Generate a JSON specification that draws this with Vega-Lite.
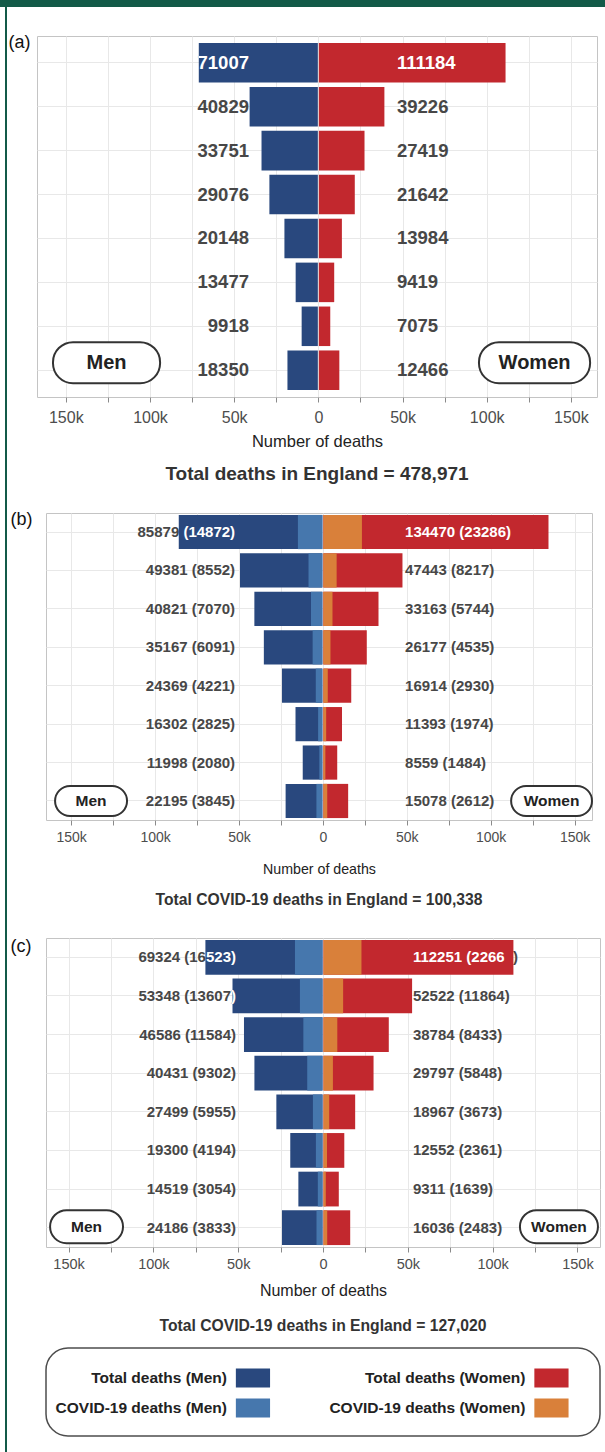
{
  "$schema": "https://vega.github.io/schema/vega-lite/v6.json",
  "padding": 0,
  "autosize": {"type": "pad"},
  "background": "white",
  "config": {
    "font": "Liberation Sans",
    "view": {"stroke": "#c4c4c4"}
  },
  "datasets": {
    "a_m": [
      {"group": "85+", "total": 71007, "label": "71007"},
      {"group": "80-84", "total": 40829, "label": "40829"},
      {"group": "75-79", "total": 33751, "label": "33751"},
      {"group": "70-74", "total": 29076, "label": "29076"},
      {"group": "65-69", "total": 20148, "label": "20148"},
      {"group": "60-64", "total": 13477, "label": "13477"},
      {"group": "55-59", "total": 9918, "label": "9918"},
      {"group": "<55", "total": 18350, "label": "18350"}
    ],
    "a_w": [
      {"group": "85+", "total": 111184, "label": "111184"},
      {"group": "80-84", "total": 39226, "label": "39226"},
      {"group": "75-79", "total": 27419, "label": "27419"},
      {"group": "70-74", "total": 21642, "label": "21642"},
      {"group": "65-69", "total": 13984, "label": "13984"},
      {"group": "60-64", "total": 9419, "label": "9419"},
      {"group": "55-59", "total": 7075, "label": "7075"},
      {"group": "<55", "total": 12466, "label": "12466"}
    ],
    "b_m": [
      {"group": "85+", "total": 85879, "covid": 14872, "label": "85879 (14872)"},
      {"group": "80-84", "total": 49381, "covid": 8552, "label": "49381 (8552)"},
      {"group": "75-79", "total": 40821, "covid": 7070, "label": "40821 (7070)"},
      {"group": "70-74", "total": 35167, "covid": 6091, "label": "35167 (6091)"},
      {"group": "65-69", "total": 24369, "covid": 4221, "label": "24369 (4221)"},
      {"group": "60-64", "total": 16302, "covid": 2825, "label": "16302 (2825)"},
      {"group": "55-59", "total": 11998, "covid": 2080, "label": "11998 (2080)"},
      {"group": "<55", "total": 22195, "covid": 3845, "label": "22195 (3845)"}
    ],
    "b_w": [
      {"group": "85+", "total": 134470, "covid": 23286, "label": "134470 (23286)"},
      {"group": "80-84", "total": 47443, "covid": 8217, "label": "47443 (8217)"},
      {"group": "75-79", "total": 33163, "covid": 5744, "label": "33163 (5744)"},
      {"group": "70-74", "total": 26177, "covid": 4535, "label": "26177 (4535)"},
      {"group": "65-69", "total": 16914, "covid": 2930, "label": "16914 (2930)"},
      {"group": "60-64", "total": 11393, "covid": 1974, "label": "11393 (1974)"},
      {"group": "55-59", "total": 8559, "covid": 1484, "label": "8559 (1484)"},
      {"group": "<55", "total": 15078, "covid": 2612, "label": "15078 (2612)"}
    ],
    "c_m": [
      {"group": "85+", "total": 69324, "covid": 16523, "label": "69324 (16523)"},
      {"group": "80-84", "total": 53348, "covid": 13607, "label": "53348 (13607)"},
      {"group": "75-79", "total": 46586, "covid": 11584, "label": "46586 (11584)"},
      {"group": "70-74", "total": 40431, "covid": 9302, "label": "40431 (9302)"},
      {"group": "65-69", "total": 27499, "covid": 5955, "label": "27499 (5955)"},
      {"group": "60-64", "total": 19300, "covid": 4194, "label": "19300 (4194)"},
      {"group": "55-59", "total": 14519, "covid": 3054, "label": "14519 (3054)"},
      {"group": "<55", "total": 24186, "covid": 3833, "label": "24186 (3833)"}
    ],
    "c_w": [
      {"group": "85+", "total": 112251, "covid": 22667, "label": "112251 (22667)"},
      {"group": "80-84", "total": 52522, "covid": 11864, "label": "52522 (11864)"},
      {"group": "75-79", "total": 38784, "covid": 8433, "label": "38784 (8433)"},
      {"group": "70-74", "total": 29797, "covid": 5848, "label": "29797 (5848)"},
      {"group": "65-69", "total": 18967, "covid": 3673, "label": "18967 (3673)"},
      {"group": "60-64", "total": 12552, "covid": 2361, "label": "12552 (2361)"},
      {"group": "55-59", "total": 9311, "covid": 1639, "label": "9311 (1639)"},
      {"group": "<55", "total": 16036, "covid": 2483, "label": "16036 (2483)"}
    ],
    "legend": [
      {"series": "Total deaths (Men)", "sex": "Men", "kind": "Total"},
      {"series": "COVID-19 deaths (Men)", "sex": "Men", "kind": "COVID-19"},
      {"series": "Total deaths (Women)", "sex": "Women", "kind": "Total"},
      {"series": "COVID-19 deaths (Women)", "sex": "Women", "kind": "COVID-19"}
    ]
  },
  "bounds": "flush",
  "spacing": 30,
  "hconcat": [
    {
      "width": 7,
      "height": 1452,
      "view": {"stroke": null},
      "data": {"values": [{}]},
      "layer": [
        {
          "mark": {"type": "rect", "color": "#135a48"},
          "encoding": {
            "x": {"datum": 5, "type": "quantitative", "scale": {"domain": [0, 7], "nice": false, "zero": false}, "axis": null},
            "x2": {"datum": 7},
            "y": {"datum": 0, "type": "quantitative", "scale": {"domain": [0, 1452], "nice": false, "reverse": true}, "axis": null},
            "y2": {"datum": 1452}
          }
        },
        {
          "mark": {"type": "rect", "color": "#135a48"},
          "encoding": {
            "x": {"datum": 0, "type": "quantitative"},
            "x2": {"datum": 605},
            "y": {"datum": 0, "type": "quantitative"},
            "y2": {"datum": 7}
          }
        }
      ]
    },
    {
      "bounds": "flush",
      "spacing": 29,
      "vconcat": [
        {
          "width": 560,
          "height": 7,
          "view": {"stroke": null},
          "data": {"values": [{}]},
          "mark": {"type": "rect", "color": "#135a48"},
          "encoding": {
            "x": {"datum": 0, "type": "quantitative", "scale": {"domain": [0, 1], "nice": false}, "axis": null},
            "x2": {"datum": 1},
            "y": {"datum": 0, "type": "quantitative", "scale": {"domain": [0, 1], "nice": false}, "axis": null},
            "y2": {"datum": 1}
          }
        },
        {
          "bounds": "flush",
          "spacing": 116,
          "vconcat": [
            {
              "width": 560,
              "height": 361,
              "view": {"stroke": "#c4c4c4"},
              "title": {"text": "Total deaths in England = 478,971", "orient": "bottom", "fontSize": 19, "fontWeight": "bold", "color": "#333333", "offset": 15},
              "encoding": {
                "y": {
                  "field": "group", "type": "nominal",
                  "sort": ["85+", "80-84", "75-79", "70-74", "65-69", "60-64", "55-59", "<55"],
                  "scale": {"paddingInner": 0.1, "paddingOuter": 0.16},
                  "axis": {"title": "(a)", "titleAngle": 0, "titleAlign": "left", "titleBaseline": "top", "titleX": -29, "titleY": -3, "titleFontSize": 18, "titleFontWeight": "normal", "titleColor": "#111111", "labels": false, "ticks": false, "domain": false, "grid": true, "gridColor": "#e8e8e8"}
                }
              },
              "layer": [
                {
                  "data": {"name": "a_m"},
                  "encoding": {"x": {"field": "total", "type": "quantitative", "scale": {"domain": [167100, -165500], "nice": false}, "axis": null}},
                  "layer": [
                    {"mark": {"type": "text", "align": "right", "baseline": "middle", "fontSize": 18.5, "fontWeight": "bold", "color": "#474747"}, "encoding": {"x": {"datum": 41200}, "text": {"field": "label"}}},
                    {"mark": {"type": "bar", "x2Offset": -0.5}, "encoding": {"x2": {"datum": 0}, "color": {"datum": "Total deaths (Men)", "scale": {"domain": ["Total deaths (Men)", "COVID-19 deaths (Men)", "Total deaths (Women)", "COVID-19 deaths (Women)"], "range": ["#29487e", "#4677ad", "#c2282e", "#d9803a"]}, "legend": null}}},
                    {"transform": [{"filter": "datum.total > 41200"}], "mark": {"type": "text", "align": "right", "baseline": "middle", "fontSize": 18.5, "fontWeight": "bold", "color": "white", "dir": "rtl", "ellipsis": "\u200b", "limit": {"expr": "(datum.total - 41200) / 594 + 2"}}, "encoding": {"x": {"datum": 41200}, "text": {"field": "label"}}},
                    {"transform": [{"filter": "datum.group == '<55'"}], "mark": {"type": "bar", "fill": "white", "stroke": "#333333", "strokeWidth": 2, "cornerRadius": 20, "height": 41, "yOffset": -7.5}, "encoding": {"x": {"datum": 157600}, "x2": {"datum": 94000}}},
                    {"transform": [{"filter": "datum.group == '<55'"}], "mark": {"type": "text", "baseline": "middle", "fontSize": 20, "fontWeight": "bold", "color": "#222222", "yOffset": -7.5}, "encoding": {"x": {"datum": 125800}, "text": {"value": "Men"}}}
                  ]
                },
                {
                  "data": {"name": "a_w"},
                  "encoding": {"x": {"field": "total", "type": "quantitative", "scale": {"domain": [-167100, 165500], "nice": false},
                    "axis": {"orient": "bottom", "values": [-150000, -125000, -100000, -75000, -50000, -25000, 0, 25000, 50000, 75000, 100000, 125000, 150000], "labelExpr": "datum.value % 50000 == 0 ? (datum.value == 0 ? '0' : format(abs(datum.value) / 1000, 'd') + 'k') : ''", "labelOverlap": false, "labelFlush": false, "grid": true, "gridColor": "#e8e8e8", "domain": false, "tickColor": "#8a8a8a", "tickSize": 5, "labelPadding": 7, "labelFontSize": 16, "labelColor": "#4d4d4d", "title": "Number of deaths", "titleFontSize": 16.5, "titleFontWeight": "normal", "titleColor": "#222222", "titlePadding": 8}}},
                  "layer": [
                    {"mark": {"type": "text", "align": "left", "baseline": "middle", "fontSize": 18.5, "fontWeight": "bold", "color": "#474747"}, "encoding": {"x": {"datum": 46700}, "text": {"field": "label"}}},
                    {"mark": {"type": "bar", "x2Offset": 0.5}, "encoding": {"x2": {"datum": 0}, "color": {"datum": "Total deaths (Women)", "scale": {"domain": ["Total deaths (Men)", "COVID-19 deaths (Men)", "Total deaths (Women)", "COVID-19 deaths (Women)"], "range": ["#29487e", "#4677ad", "#c2282e", "#d9803a"]}, "legend": null}}},
                    {"transform": [{"filter": "datum.total > 46700"}], "mark": {"type": "text", "align": "left", "baseline": "middle", "fontSize": 18.5, "fontWeight": "bold", "color": "white", "ellipsis": "\u200b", "limit": {"expr": "(datum.total - 46700) / 594"}}, "encoding": {"x": {"datum": 46700}, "text": {"field": "label"}}},
                    {"transform": [{"filter": "datum.group == '<55'"}], "mark": {"type": "bar", "fill": "white", "stroke": "#333333", "strokeWidth": 2, "cornerRadius": 20, "height": 41, "yOffset": -7.5}, "encoding": {"x": {"datum": 95400}, "x2": {"datum": 161400}}},
                    {"transform": [{"filter": "datum.group == '<55'"}], "mark": {"type": "text", "baseline": "middle", "fontSize": 20, "fontWeight": "bold", "color": "#222222", "yOffset": -7.5}, "encoding": {"x": {"datum": 128400}, "text": {"value": "Women"}}}
                  ]
                }
              ],
              "resolve": {"scale": {"x": "independent"}}
            },
            {
              "bounds": "flush",
              "spacing": 8,
              "hconcat": [
                {"width": 1, "height": 1, "view": {"stroke": null}, "data": {"values": []}, "mark": "point"},
                {
                  "bounds": "flush",
                  "spacing": 118,
                  "vconcat": [
                    {
                      "width": 546,
                      "height": 307,
                      "view": {"stroke": "#c4c4c4"},
                      "title": {"text": "Total COVID-19 deaths in England = 100,338", "orient": "bottom", "fontSize": 15.7, "fontWeight": "bold", "color": "#333333", "offset": 17},
                      "encoding": {
                        "y": {
                          "field": "group", "type": "nominal",
                          "sort": ["85+", "80-84", "75-79", "70-74", "65-69", "60-64", "55-59", "<55"],
                          "scale": {"paddingInner": 0.11, "paddingOuter": 0.05},
                          "axis": {"title": "(b)", "titleAngle": 0, "titleAlign": "left", "titleBaseline": "top", "titleX": -36, "titleY": -3, "titleFontSize": 18, "titleFontWeight": "normal", "titleColor": "#111111", "labels": false, "ticks": false, "domain": false, "grid": true, "gridColor": "#e8e8e8"}
                        }
                      },
                      "layer": [
                        {
                          "data": {"name": "b_m"},
                          "encoding": {"x": {"field": "total", "type": "quantitative", "scale": {"domain": [165000, -160400], "nice": false}, "axis": null}},
                          "layer": [
                            {"mark": {"type": "text", "align": "right", "baseline": "middle", "fontSize": 15, "fontWeight": "bold", "color": "#474747"}, "encoding": {"x": {"datum": 52300}, "text": {"field": "label"}}},
                            {"mark": {"type": "bar", "x2Offset": -0.5}, "encoding": {"x2": {"datum": 0}, "color": {"datum": "Total deaths (Men)", "scale": {"domain": ["Total deaths (Men)", "COVID-19 deaths (Men)", "Total deaths (Women)", "COVID-19 deaths (Women)"], "range": ["#29487e", "#4677ad", "#c2282e", "#d9803a"]}, "legend": null}}},
                            {"mark": {"type": "bar", "x2Offset": -0.5}, "encoding": {"x": {"field": "covid", "type": "quantitative"}, "x2": {"datum": 0}, "color": {"datum": "COVID-19 deaths (Men)"}}},
                            {"transform": [{"filter": "datum.total > 52300"}], "mark": {"type": "text", "align": "right", "baseline": "middle", "fontSize": 15, "fontWeight": "bold", "color": "white", "dir": "rtl", "ellipsis": "\u200b", "limit": {"expr": "(datum.total - 52300) / 596 + 2"}}, "encoding": {"x": {"datum": 52300}, "text": {"field": "label"}}},
                            {"transform": [{"filter": "datum.group == '<55'"}], "mark": {"type": "bar", "fill": "white", "stroke": "#333333", "strokeWidth": 2, "cornerRadius": 15, "height": 30}, "encoding": {"x": {"datum": 159600}, "x2": {"datum": 116700}}},
                            {"transform": [{"filter": "datum.group == '<55'"}], "mark": {"type": "text", "baseline": "middle", "fontSize": 15.5, "fontWeight": "bold", "color": "#222222"}, "encoding": {"x": {"datum": 138150}, "text": {"value": "Men"}}}
                          ]
                        },
                        {
                          "data": {"name": "b_w"},
                          "encoding": {"x": {"field": "total", "type": "quantitative", "scale": {"domain": [-165000, 160400], "nice": false},
                            "axis": {"orient": "bottom", "values": [-150000, -125000, -100000, -75000, -50000, -25000, 0, 25000, 50000, 75000, 100000, 125000, 150000], "labelExpr": "datum.value % 50000 == 0 ? (datum.value == 0 ? '0' : format(abs(datum.value) / 1000, 'd') + 'k') : ''", "labelOverlap": false, "labelFlush": false, "grid": true, "gridColor": "#e8e8e8", "domain": false, "tickColor": "#8a8a8a", "tickSize": 5, "labelPadding": 5, "labelFontSize": 14, "labelColor": "#4d4d4d", "title": "Number of deaths", "titleFontSize": 14.2, "titleFontWeight": "normal", "titleColor": "#222222", "titlePadding": 18}}},
                          "layer": [
                            {"mark": {"type": "text", "align": "left", "baseline": "middle", "fontSize": 15, "fontWeight": "bold", "color": "#474747"}, "encoding": {"x": {"datum": 49000}, "text": {"field": "label"}}},
                            {"mark": {"type": "bar", "x2Offset": 0.5}, "encoding": {"x2": {"datum": 0}, "color": {"datum": "Total deaths (Women)", "scale": {"domain": ["Total deaths (Men)", "COVID-19 deaths (Men)", "Total deaths (Women)", "COVID-19 deaths (Women)"], "range": ["#29487e", "#4677ad", "#c2282e", "#d9803a"]}, "legend": null}}},
                            {"mark": {"type": "bar", "x2Offset": 0.5}, "encoding": {"x": {"field": "covid", "type": "quantitative"}, "x2": {"datum": 0}, "color": {"datum": "COVID-19 deaths (Women)"}}},
                            {"transform": [{"filter": "datum.total > 49000"}], "mark": {"type": "text", "align": "left", "baseline": "middle", "fontSize": 15, "fontWeight": "bold", "color": "white", "ellipsis": "\u200b", "limit": {"expr": "(datum.total - 49000) / 596"}}, "encoding": {"x": {"datum": 49000}, "text": {"field": "label"}}},
                            {"transform": [{"filter": "datum.group == '<55'"}], "mark": {"type": "bar", "fill": "white", "stroke": "#333333", "strokeWidth": 2, "cornerRadius": 15, "height": 30}, "encoding": {"x": {"datum": 112200}, "x2": {"datum": 160400}}},
                            {"transform": [{"filter": "datum.group == '<55'"}], "mark": {"type": "text", "baseline": "middle", "fontSize": 15.5, "fontWeight": "bold", "color": "#222222"}, "encoding": {"x": {"datum": 136300}, "text": {"value": "Women"}}}
                          ]
                        }
                      ],
                      "resolve": {"scale": {"x": "independent"}}
                    },
                    {
                      "bounds": "flush",
                      "spacing": 101,
                      "vconcat": [
                        {
                          "width": 554,
                          "height": 309,
                          "view": {"stroke": "#c4c4c4"},
                          "title": {"text": "Total COVID-19 deaths in England = 127,020", "orient": "bottom", "fontSize": 15.7, "fontWeight": "bold", "color": "#333333", "offset": 20},
                          "encoding": {
                            "y": {
                              "field": "group", "type": "nominal",
                              "sort": ["85+", "80-84", "75-79", "70-74", "65-69", "60-64", "55-59", "<55"],
                              "scale": {"paddingInner": 0.1, "paddingOuter": 0.05},
                              "axis": {"title": "(c)", "titleAngle": 0, "titleAlign": "left", "titleBaseline": "top", "titleX": -36, "titleY": -1, "titleFontSize": 18, "titleFontWeight": "normal", "titleColor": "#111111", "labels": false, "ticks": false, "domain": false, "grid": true, "gridColor": "#e8e8e8"}
                            }
                          },
                          "layer": [
                            {
                              "data": {"name": "c_m"},
                              "encoding": {"x": {"field": "total", "type": "quantitative", "scale": {"domain": [163300, -163300], "nice": false}, "axis": null}},
                              "layer": [
                                {"mark": {"type": "text", "align": "right", "baseline": "middle", "fontSize": 15, "fontWeight": "bold", "color": "#474747"}, "encoding": {"x": {"datum": 51300}, "text": {"field": "label"}}},
                                {"mark": {"type": "bar", "x2Offset": -0.5}, "encoding": {"x2": {"datum": 0}, "color": {"datum": "Total deaths (Men)", "scale": {"domain": ["Total deaths (Men)", "COVID-19 deaths (Men)", "Total deaths (Women)", "COVID-19 deaths (Women)"], "range": ["#29487e", "#4677ad", "#c2282e", "#d9803a"]}, "legend": null}}},
                                {"mark": {"type": "bar", "x2Offset": -0.5}, "encoding": {"x": {"field": "covid", "type": "quantitative"}, "x2": {"datum": 0}, "color": {"datum": "COVID-19 deaths (Men)"}}},
                                {"transform": [{"filter": "datum.total > 51300"}], "mark": {"type": "text", "align": "right", "baseline": "middle", "fontSize": 15, "fontWeight": "bold", "color": "white", "dir": "rtl", "ellipsis": "\u200b", "limit": {"expr": "(datum.total - 51300) / 589.4 + 2"}}, "encoding": {"x": {"datum": 51300}, "text": {"field": "label"}}},
                                {"transform": [{"filter": "datum.group == '<55'"}], "mark": {"type": "bar", "fill": "white", "stroke": "#333333", "strokeWidth": 2, "cornerRadius": 16.5, "height": 33, "yOffset": -1}, "encoding": {"x": {"datum": 160900}, "x2": {"datum": 117900}}},
                                {"transform": [{"filter": "datum.group == '<55'"}], "mark": {"type": "text", "baseline": "middle", "fontSize": 15.5, "fontWeight": "bold", "color": "#222222", "yOffset": -1}, "encoding": {"x": {"datum": 139400}, "text": {"value": "Men"}}}
                              ]
                            },
                            {
                              "data": {"name": "c_w"},
                              "encoding": {"x": {"field": "total", "type": "quantitative", "scale": {"domain": [-163300, 163300], "nice": false},
                                "axis": {"orient": "bottom", "values": [-150000, -125000, -100000, -75000, -50000, -25000, 0, 25000, 50000, 75000, 100000, 125000, 150000], "labelExpr": "datum.value % 50000 == 0 ? (datum.value == 0 ? '0' : format(abs(datum.value) / 1000, 'd') + 'k') : ''", "labelOverlap": false, "labelFlush": false, "grid": true, "gridColor": "#e8e8e8", "domain": false, "tickColor": "#8a8a8a", "tickSize": 5, "labelPadding": 5, "labelFontSize": 14.5, "labelColor": "#4d4d4d", "title": "Number of deaths", "titleFontSize": 16, "titleFontWeight": "normal", "titleColor": "#222222", "titlePadding": 12}}},
                              "layer": [
                                {"mark": {"type": "text", "align": "left", "baseline": "middle", "fontSize": 15, "fontWeight": "bold", "color": "#474747"}, "encoding": {"x": {"datum": 53000}, "text": {"field": "label"}}},
                                {"mark": {"type": "bar", "x2Offset": 0.5}, "encoding": {"x2": {"datum": 0}, "color": {"datum": "Total deaths (Women)", "scale": {"domain": ["Total deaths (Men)", "COVID-19 deaths (Men)", "Total deaths (Women)", "COVID-19 deaths (Women)"], "range": ["#29487e", "#4677ad", "#c2282e", "#d9803a"]}, "legend": null}}},
                                {"mark": {"type": "bar", "x2Offset": 0.5}, "encoding": {"x": {"field": "covid", "type": "quantitative"}, "x2": {"datum": 0}, "color": {"datum": "COVID-19 deaths (Women)"}}},
                                {"transform": [{"filter": "datum.total > 53000"}], "mark": {"type": "text", "align": "left", "baseline": "middle", "fontSize": 15, "fontWeight": "bold", "color": "white", "ellipsis": "\u200b", "limit": {"expr": "(datum.total - 53000) / 589.4 - 3"}}, "encoding": {"x": {"datum": 53000}, "text": {"field": "label"}}},
                                {"transform": [{"filter": "datum.group == '<55'"}], "mark": {"type": "bar", "fill": "white", "stroke": "#333333", "strokeWidth": 2, "cornerRadius": 16.5, "height": 33, "yOffset": -1}, "encoding": {"x": {"datum": 116100}, "x2": {"datum": 162100}}},
                                {"transform": [{"filter": "datum.group == '<55'"}], "mark": {"type": "text", "baseline": "middle", "fontSize": 15.5, "fontWeight": "bold", "color": "#222222", "yOffset": -1}, "encoding": {"x": {"datum": 139100}, "text": {"value": "Women"}}}
                              ]
                            }
                          ],
                          "resolve": {"scale": {"x": "independent"}}
                        },
                        {
                          "width": 554,
                          "height": 88,
                          "view": {"fill": "white", "stroke": "#4d4d4d", "strokeWidth": 1.5, "cornerRadius": 22},
                          "data": {"name": "legend"},
                          "encoding": {
                            "x": {"field": "sex", "type": "nominal", "sort": ["Men", "Women"], "scale": {"type": "point", "padding": 0.428, "align": 0.81}, "axis": null},
                            "y": {"field": "kind", "type": "nominal", "sort": ["Total", "COVID-19"], "scale": {"type": "point", "padding": 0.967, "align": 0.517}, "axis": null}
                          },
                          "layer": [
                            {"mark": {"type": "point", "shape": "M-1.8,-1H1.8V1H-1.8Z", "size": 361, "filled": true, "opacity": 1, "strokeWidth": 0}, "encoding": {"color": {"field": "series", "type": "nominal", "scale": {"domain": ["Total deaths (Men)", "COVID-19 deaths (Men)", "Total deaths (Women)", "COVID-19 deaths (Women)"], "range": ["#29487e", "#4677ad", "#c2282e", "#d9803a"]}, "legend": null}}},
                            {"mark": {"type": "text", "align": "right", "baseline": "middle", "xOffset": -26, "fontSize": 15.5, "fontWeight": "bold", "color": "#222222"}, "encoding": {"text": {"field": "series"}}}
                          ]
                        }
                      ]
                    }
                  ]
                }
              ]
            }
          ]
        }
      ]
    }
  ]
}
